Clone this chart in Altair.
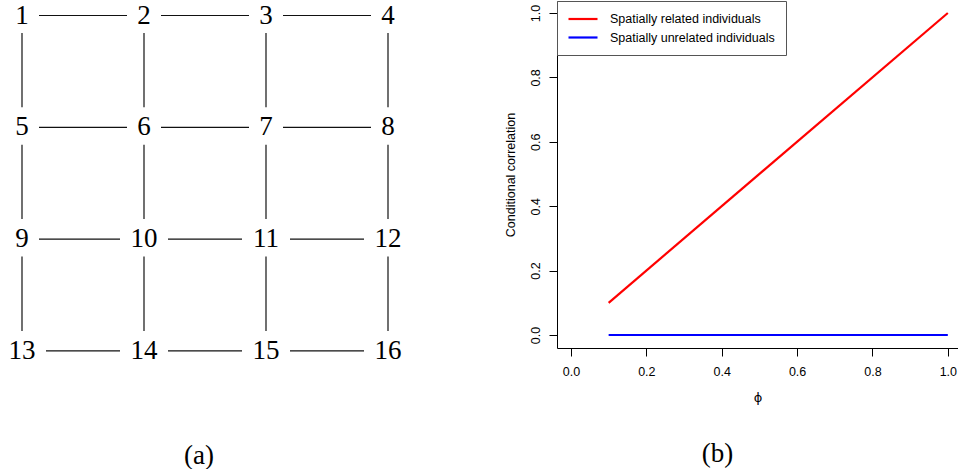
import altair as alt
import pandas as pd

# ---------------- data ----------------
node_labels = ["1", "2", "3", "4", "5", "6", "7", "8",
               "9", "10", "11", "12", "13", "14", "15", "16"]
node_row = [0, 0, 0, 0, 1, 1, 1, 1, 2, 2, 2, 2, 3, 3, 3, 3]
node_col = [0, 1, 2, 3, 0, 1, 2, 3, 0, 1, 2, 3, 0, 1, 2, 3]
edge_from = [1, 2, 3, 5, 6, 7, 9, 10, 11, 13, 14, 15,
             1, 2, 3, 4, 5, 6, 7, 8, 9, 10, 11, 12]
edge_to = [2, 3, 4, 6, 7, 8, 10, 11, 12, 14, 15, 16,
           5, 6, 7, 8, 9, 10, 11, 12, 13, 14, 15, 16]

phi = [0.1, 1.0]
related = [0.1, 1.0]
unrelated = [0.0, 0.0]
series_names = ["Spatially related individuals", "Spatially unrelated individuals"]
series_colors = ["#FF0000", "#0000FF"]
x_ticks = [0.0, 0.2, 0.4, 0.6, 0.8, 1.0]
y_ticks = [0.0, 0.2, 0.4, 0.6, 0.8, 1.0]

# ---------------- panel (a): grid graph ----------------
A_W, A_H = 410, 370
COL_PX, ROW_PX = 122.0, 111.8
x_dom_a = [-22 / COL_PX, (A_W - 22) / COL_PX]
y_dom_a = [-14.5 / ROW_PX, (A_H - 14.5) / ROW_PX]

nodes = pd.DataFrame({"label": node_labels, "row": node_row, "col": node_col})


def hgap(lbl):
    return (10 + 7 * len(lbl)) / COL_PX


seg = []
for a, b in zip(edge_from, edge_to):
    ra, ca = node_row[a - 1], node_col[a - 1]
    rb, cb = node_row[b - 1], node_col[b - 1]
    la, lb = node_labels[a - 1], node_labels[b - 1]
    if ra == rb:
        seg.append({"x": ca + hgap(la), "x2": cb - hgap(lb), "y": ra, "y2": rb})
    else:
        seg.append({"x": ca, "x2": cb, "y": ra + 17.5 / ROW_PX, "y2": rb - 20 / ROW_PX})
edges = pd.DataFrame(seg)

xa = alt.Scale(domain=x_dom_a, nice=False, zero=False)
ya = alt.Scale(domain=y_dom_a, nice=False, zero=False, reverse=True)

edge_layer = alt.Chart(edges).mark_rule(color="#111111", strokeWidth=1.2).encode(
    x=alt.X("x:Q", scale=xa, axis=None),
    x2="x2:Q",
    y=alt.Y("y:Q", scale=ya, axis=None),
    y2="y2:Q",
)
node_layer = alt.Chart(nodes).mark_text(
    font="Liberation Serif", fontSize=27, align="center", baseline="middle", color="black"
).encode(
    x=alt.X("col:Q", scale=xa, axis=None),
    y=alt.Y("row:Q", scale=ya, axis=None),
    text="label:N",
)
panel_a = alt.layer(edge_layer, node_layer).properties(
    width=A_W, height=A_H,
    title=alt.TitleParams("(a)", orient="bottom", anchor="middle", offset=72, dx=-6,
                          font="Liberation Serif", fontSize=27, fontWeight="normal",
                          color="black"),
)

# ---------------- panel (b): line chart ----------------
B_W, B_H = 401, 347
lines = pd.DataFrame({
    "phi": phi + phi,
    "corr": related + unrelated,
    "series": [series_names[0]] * len(phi) + [series_names[1]] * len(phi),
})

NBSP_PAD = "\u00a0" * 6

panel_b = alt.Chart(lines).mark_line(strokeWidth=2.2, clip=True).encode(
    x=alt.X("phi:Q",
            scale=alt.Scale(domain=[-0.037, 1.027], nice=False, zero=False),
            axis=alt.Axis(title="ϕ", values=x_ticks, format=".1f", grid=False,
                          tickSize=8, tickColor="black", domainColor="black",
                          labelPadding=9, labelFont="Liberation Sans", labelFontSize=12.5,
                          labelColor="black", titleFont="DejaVu Sans", titleFontSize=13,
                          titleFontWeight="normal", titleColor="black", titlePadding=14,
                          labelFlush=False)),
    y=alt.Y("corr:Q",
            scale=alt.Scale(domain=[-0.0404, 1.0373], nice=False, zero=False),
            axis=alt.Axis(title="Conditional correlation", values=y_ticks, format=".1f",
                          grid=False, tickSize=8, tickColor="black", domainColor="black",
                          labelAngle=-90, labelAlign="center", labelBaseline="bottom",
                          labelPadding=7, labelFont="Liberation Sans", labelFontSize=12.5,
                          labelColor="black", titleFont="Liberation Sans", titleFontSize=12.5,
                          titleFontWeight="normal", titleColor="black", titlePadding=12,
                          labelFlush=False)),
    color=alt.Color("series:N",
                    scale=alt.Scale(domain=series_names, range=series_colors),
                    legend=alt.Legend(orient="top-left", offset=0, padding=11, title=None,
                                      fillColor="white", strokeColor="#555555",
                                      cornerRadius=0, symbolType="M-2.5,0H2.5",
                                      symbolSize=134.6, symbolStrokeWidth=2.2,
                                      symbolOffset=8, labelOffset=20,
                                      labelFont="Liberation Sans", labelFontSize=12.5,
                                      labelColor="black", rowPadding=4.5, labelLimit=400,
                                      labelExpr="datum.label + '" + NBSP_PAD + "'")),
).properties(
    width=B_W, height=B_H,
    title=alt.TitleParams("(b)", orient="bottom", anchor="middle", offset=36, dx=-40,
                          font="Liberation Serif", fontSize=27, fontWeight="normal",
                          color="black"),
)

chart = alt.hconcat(panel_a, panel_b, spacing=147, bounds="flush").resolve_legend(
    color="independent"
).properties(
    padding=0, background="white"
).configure_view(stroke=None)

chart.save("out.html", embed_options={"renderer": "svg", "actions": False})
